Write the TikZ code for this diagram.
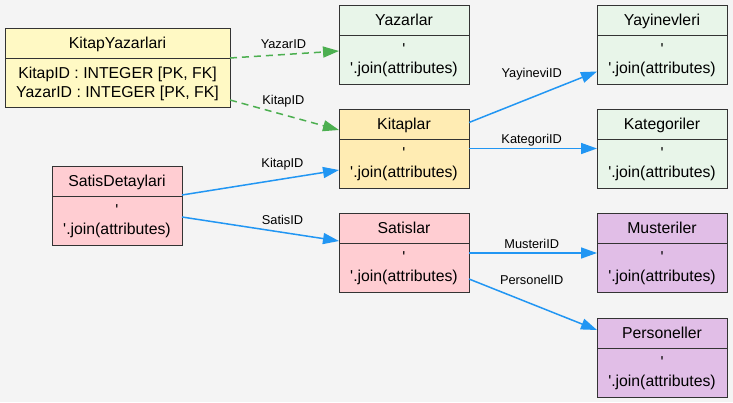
\documentclass[tikz,border=0pt]{standalone}
\usepackage{fontspec}
\setmainfont{Liberation Sans}
\usetikzlibrary{arrows.meta}
\newcommand{\sq}{\textquotesingle}
\definecolor{bggray}{HTML}{F4F4F4}
\definecolor{linegray}{HTML}{333333}
\definecolor{fkblue}{HTML}{2196F3}
\definecolor{linkgreen}{HTML}{4CAF50}
\definecolor{junction}{HTML}{FFF9C4}
\definecolor{lookup}{HTML}{E8F5E9}
\definecolor{core}{HTML}{FFECB3}
\definecolor{sales}{HTML}{FFCDD2}
\definecolor{people}{HTML}{E1BEE7}

\begin{document}
\begin{tikzpicture}[x=1pt,y=-1pt]
	\tikzstyle{cell}=[draw=linegray,line width=1pt,minimum width=130pt,inner sep=0pt,outer sep=0pt,anchor=north west,text=black,font=\fontsize{15.8}{18.8}\selectfont]
	\tikzstyle{hdr}=[cell,minimum height=30pt,text height=14pt,text depth=2.7pt]
	\tikzstyle{attrs}=[cell,minimum height=49pt,align=center,text depth=1.7pt]
	\tikzstyle{lbl}=[inner sep=0pt,text=black,text height=9.2pt,text depth=2.5pt,font=\fontsize{12.8}{15}\selectfont]
	\tikzstyle{fk}=[line width=1.5pt,fkblue,-{Triangle[length=16pt,width=11pt]}]
	\tikzstyle{link}=[fk,linkgreen,dash pattern=on 7pt off 5pt]
	\fill [bggray] (0,0) rectangle (733,402);
	\useasboundingbox (0,0) rectangle (733,402);
	% left column
	\node (kitapyazarlari-h) at (5,28) [hdr,fill=junction,minimum width=225pt] {KitapYazarlari};
	\node (kitapyazarlari-b) at (kitapyazarlari-h.south west) [attrs,fill=junction,minimum width=225pt,text depth=0pt] {KitapID : INTEGER [PK, FK]\\YazarID : INTEGER [PK, FK]};
	\node (satisdetaylari-h) at (52,166) [hdr,fill=sales] {SatisDetaylari};
	\node (satisdetaylari-b) at (satisdetaylari-h.south west) [attrs,fill=sales] {\sq\\\sq.join(attributes)};
	% middle column
	\node (yazarlar-h) at (339,5) [hdr,fill=lookup] {Yazarlar};
	\node (yazarlar-b) at (yazarlar-h.south west) [attrs,fill=lookup] {\sq\\\sq.join(attributes)};
	\node (kitaplar-h) at (339,109) [hdr,fill=core] {Kitaplar};
	\node (kitaplar-b) at (kitaplar-h.south west) [attrs,fill=core] {\sq\\\sq.join(attributes)};
	\node (satislar-h) at (339,213) [hdr,fill=sales] {Satislar};
	\node (satislar-b) at (satislar-h.south west) [attrs,fill=sales] {\sq\\\sq.join(attributes)};
	% right column
	\node (yayinevleri-h) at (597,5) [hdr,fill=lookup] {Yayinevleri};
	\node (yayinevleri-b) at (yayinevleri-h.south west) [attrs,fill=lookup] {\sq\\\sq.join(attributes)};
	\node (kategoriler-h) at (597,109) [hdr,fill=lookup] {Kategoriler};
	\node (kategoriler-b) at (kategoriler-h.south west) [attrs,fill=lookup] {\sq\\\sq.join(attributes)};
	\node (musteriler-h) at (597,213) [hdr,fill=people] {Musteriler};
	\node (musteriler-b) at (musteriler-h.south west) [attrs,fill=people] {\sq\\\sq.join(attributes)};
	\node (personeller-h) at (597,318) [hdr,fill=people] {Personeller};
	\node (personeller-b) at (personeller-h.south west) [attrs,fill=people] {\sq\\\sq.join(attributes)};
	% connectors
	\draw [link] (kitapyazarlari-h.south east) -- ([yshift=8.5pt]yazarlar-b.west) node [lbl,pos=0.49,above=3pt] {YazarID};
	\draw [link] ([yshift=-17.5pt]kitapyazarlari-b.east) -- ([yshift=-6pt]kitaplar-h.west) node [lbl,pos=0.49,above=7.1pt] {KitapID};
	\draw [fk] ([yshift=-14pt]satisdetaylari-h.east) -- ([yshift=-6.5pt]kitaplar-b.west) node [lbl,pos=0.64,above=7.8pt] {KitapID};
	\draw [fk] ([yshift=3.5pt]satisdetaylari-b.east) -- ([yshift=-13pt]satislar-h.west) node [lbl,pos=0.64,above=4.3pt] {SatisID};
	\draw [fk] ([yshift=1.5pt]kitaplar-h.east) -- ([yshift=-12pt]yayinevleri-b.west) node [lbl,pos=0.49,above=16.4pt] {YayineviID};
	\draw [fk] ([yshift=15pt]kitaplar-b.east) -- ([yshift=15pt]kategoriler-b.west) node [lbl,pos=0.49,above=1.4pt] {KategoriID};
	\draw [fk] ([yshift=14.5pt]satislar-b.east) -- ([yshift=14.5pt]musteriler-b.west) node [lbl,pos=0.49,above=1.4pt] {MusteriID};
	\draw [fk] ([yshift=-11.5pt]satislar-b.east) -- ([yshift=3pt]personeller-h.west) node [lbl,pos=0.49,above=15.9pt] {PersonelID};
\end{tikzpicture}
\end{document}
